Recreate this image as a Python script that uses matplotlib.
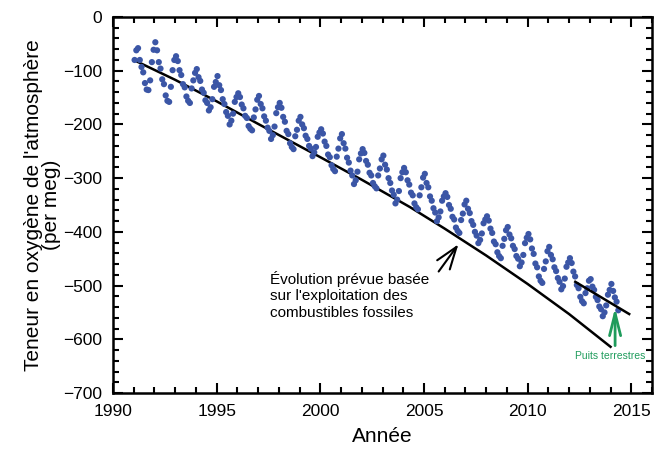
import numpy as np
import matplotlib
matplotlib.use("Agg")
import matplotlib.pyplot as plt
from matplotlib.ticker import MultipleLocator

plt.rcParams['font.family'] = ['Liberation Sans', 'DejaVu Sans']

# Monthly O2/N2 observations (per meg), January 1991 onwards
first_year = 1991
o2_values = [
    -80, -62, -58, -80, -93, -103, -123, -135, -136, -118, -84, -61,      # 1991
    -47, -62, -84, -96, -116, -125, -146, -156, -158, -130, -99, -80,     # 1992
    -73, -82, -99, -108, -125, -131, -148, -156, -160, -133, -118, -104,  # 1993
    -97, -112, -119, -135, -141, -155, -160, -174, -168, -153, -130, -121,
    -110, -127, -136, -153, -162, -177, -184, -200, -193, -180, -158, -149,
    -142, -149, -163, -170, -184, -188, -203, -208, -211, -187, -172, -154,
    -147, -162, -170, -185, -193, -206, -212, -227, -220, -204, -179, -168,
    -160, -169, -186, -195, -212, -218, -235, -242, -246, -222, -210, -193,
    -186, -200, -207, -221, -227, -240, -245, -259, -252, -242, -223, -215,
    -209, -217, -232, -240, -256, -261, -276, -283, -287, -260, -245, -226,
    -218, -235, -245, -262, -271, -286, -295, -311, -304, -288, -265, -254,
    -246, -253, -268, -275, -290, -295, -309, -315, -319, -295, -282, -265,
    -258, -275, -284, -300, -309, -323, -331, -347, -340, -324, -300, -289,
    -281, -289, -304, -312, -327, -332, -347, -354, -358, -332, -317, -299,
    -292, -309, -317, -334, -342, -356, -364, -380, -373, -362, -342, -334,
    -328, -335, -350, -357, -372, -377, -392, -398, -402, -378, -366, -349,
    -342, -357, -365, -380, -387, -400, -407, -421, -415, -403, -384, -377,
    -371, -379, -394, -402, -418, -423, -438, -445, -449, -426, -413, -397,
    -391, -405, -412, -426, -432, -445, -450, -464, -457, -443, -421, -411,
    -404, -414, -431, -441, -459, -466, -483, -491, -495, -469, -455, -436,
    -428, -443, -451, -466, -473, -486, -493, -507, -501, -487, -465, -457,
    -449, -458, -474, -483, -499, -505, -521, -529, -533, -514, -505, -491,
    -488, -502, -508, -521, -527, -539, -544, -557, -550, -537, -517, -508,
    -497, -510, -522, -530, -546,                                          # 2014
]

# Expected decline from fossil-fuel combustion
fossil_years = [1991.0, 1993.0, 1995.0, 1997.0, 2000.0, 2002.0, 2004.33,
                2006.0, 2008.0, 2010.0, 2012.0, 2014.0]
fossil_values = [-80, -117, -157, -199, -261, -303, -354,
                 -394, -444, -497, -553, -614]

# Short observed-trend segment
trend_years = [2012.3, 2014.9]
trend_values = [-493, -553]

xticks_major = [1990, 1995, 2000, 2005, 2010, 2015]

dates = first_year + (np.arange(len(o2_values)) + 0.5) / 12.0

fig = plt.figure(figsize=(6.59, 4.5), dpi=100)
ax = fig.add_axes([113/659, 1 - 393/450, (652 - 113)/659, (393 - 17)/450])

ax.scatter(dates, o2_values, s=20, color='#3b56a6', edgecolors='none', zorder=3)
ax.plot(fossil_years, fossil_values, color='black', lw=1.8, zorder=2)
ax.plot(trend_years, trend_values, color='black', lw=1.8, zorder=4)

ax.set_xlim(1990, 2016)
ax.set_ylim(-700, 0)
ax.set_xticks(xticks_major)
ax.xaxis.set_minor_locator(MultipleLocator(1))
ax.yaxis.set_major_locator(MultipleLocator(100))
ax.yaxis.set_minor_locator(MultipleLocator(20))
ax.tick_params(which='both', direction='in', top=True, right=True, width=1.5, labelsize=12.5)
ax.tick_params(which='major', length=7)
ax.tick_params(which='minor', length=4)
ax.tick_params(axis='x', which='major', pad=8)
ax.tick_params(axis='y', which='major', pad=8)
for s in ax.spines.values():
    s.set_linewidth(1.8)

ax.set_xlabel('Année', fontsize=15, labelpad=6)
ax.set_ylabel("Teneur en oxygène de l'atmosphère\n(per meg)", fontsize=15, linespacing=0.95,
              labelpad=1)

ax.text(1997.55, -472, "Évolution prévue basée\nsur l'exploitation des\ncombustibles fossiles",
        fontsize=11, ha='left', va='top', linespacing=1.25)
ax.annotate('', xy=(2006.74, -419), xytext=(2005.63, -478),
            arrowprops=dict(arrowstyle='->,head_length=0.8,head_width=0.28',
                            color='black', lw=1.5, mutation_scale=20))

green = '#1f9c5c'
ax.annotate('', xy=(2014.22, -536), xytext=(2014.22, -617),
            arrowprops=dict(arrowstyle='->,head_length=0.8,head_width=0.2',
                            color=green, lw=2, mutation_scale=20))
ax.text(2014.0, -631, 'Puits terrestres', color=green, fontsize=7.5,
        ha='center', va='center')

fig.savefig('out.png', dpi=100)
